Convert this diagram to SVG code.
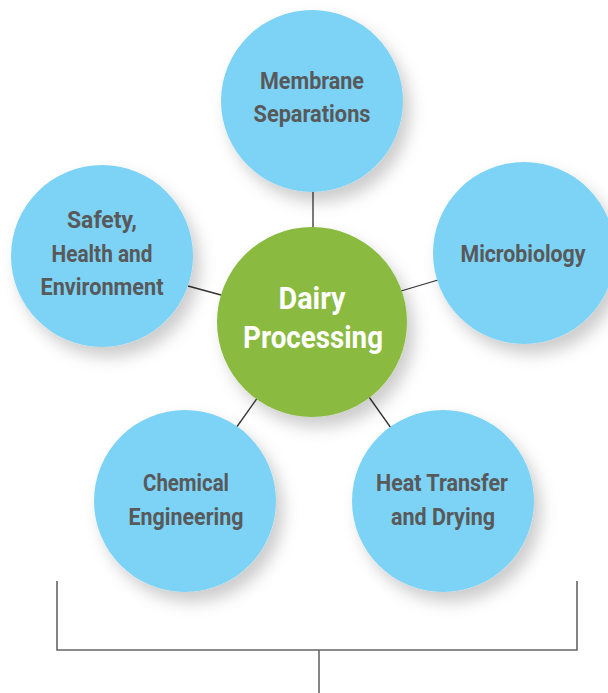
<svg xmlns="http://www.w3.org/2000/svg" width="608" height="693" viewBox="0 0 608 693">
<defs>
<filter id="sh" x="-30%" y="-30%" width="170%" height="170%">
<feGaussianBlur in="SourceAlpha" stdDeviation="8"/>
<feOffset dx="7" dy="10" result="b"/>
<feFlood flood-color="#000" flood-opacity="0.2"/>
<feComposite in2="b" operator="in"/>
<feMerge><feMergeNode/><feMergeNode in="SourceGraphic"/></feMerge>
</filter>
<style>
.blue{fill:#7dd3f5;filter:url(#sh)}
.green{fill:#8aba3f;filter:url(#sh)}
.t{font-family:Roboto,"Liberation Sans",sans-serif;font-weight:bold;font-size:23.5px;fill:#58595b;text-anchor:middle}
.tw{font-family:Roboto,"Liberation Sans",sans-serif;font-weight:bold;font-size:31px;fill:#ffffff;text-anchor:middle}
.c{stroke:#333;stroke-width:1.3;fill:none}
.br{stroke:#666;stroke-width:1.6;fill:none}
</style>
</defs>
<rect width="608" height="693" fill="#fff"/>
<g id="connectors">
<line class="c" x1="313" y1="190" x2="313" y2="230"/>
<line class="c" x1="188" y1="286" x2="221" y2="295"/>
<line class="c" x1="401" y1="291" x2="438" y2="280"/>
<line class="c" x1="369" y1="397" x2="391" y2="428"/>
<line class="c" x1="258" y1="397" x2="236" y2="428"/>
<polyline class="br" points="57,581 57,650 577,650 577,581"/>
<line class="br" x1="319" y1="650" x2="319" y2="693"/>
</g>
<g id="membrane">
<circle class="blue" cx="312" cy="101" r="91"/>
<text class="t" x="312" y="89" textLength="104" lengthAdjust="spacingAndGlyphs">Membrane</text>
<text class="t" x="312" y="122" textLength="117" lengthAdjust="spacingAndGlyphs">Separations</text>
</g>
<g id="safety">
<circle class="blue" cx="102" cy="256" r="91"/>
<text class="t" x="102" y="228" textLength="70" lengthAdjust="spacingAndGlyphs">Safety,</text>
<text class="t" x="102" y="262" textLength="101" lengthAdjust="spacingAndGlyphs">Health and</text>
<text class="t" x="102" y="295" textLength="123" lengthAdjust="spacingAndGlyphs">Environment</text>
</g>
<g id="microbiology">
<circle class="blue" cx="524" cy="253" r="91"/>
<text class="t" x="523" y="262" textLength="125" lengthAdjust="spacingAndGlyphs">Microbiology</text>
</g>
<g id="chemical">
<circle class="blue" cx="185" cy="501" r="91"/>
<text class="t" x="186" y="491" textLength="86" lengthAdjust="spacingAndGlyphs">Chemical</text>
<text class="t" x="186" y="525" textLength="115" lengthAdjust="spacingAndGlyphs">Engineering</text>
</g>
<g id="heat">
<circle class="blue" cx="443" cy="501" r="91"/>
<text class="t" x="442" y="491" textLength="132" lengthAdjust="spacingAndGlyphs">Heat Transfer</text>
<text class="t" x="443" y="525" textLength="104" lengthAdjust="spacingAndGlyphs">and Drying</text>
</g>
<g id="dairy">
<circle class="green" cx="312" cy="322" r="95"/>
<text class="tw" x="312" y="309" textLength="67" lengthAdjust="spacingAndGlyphs">Dairy</text>
<text class="tw" x="313" y="348" textLength="140" lengthAdjust="spacingAndGlyphs">Processing</text>
</g>
</svg>
